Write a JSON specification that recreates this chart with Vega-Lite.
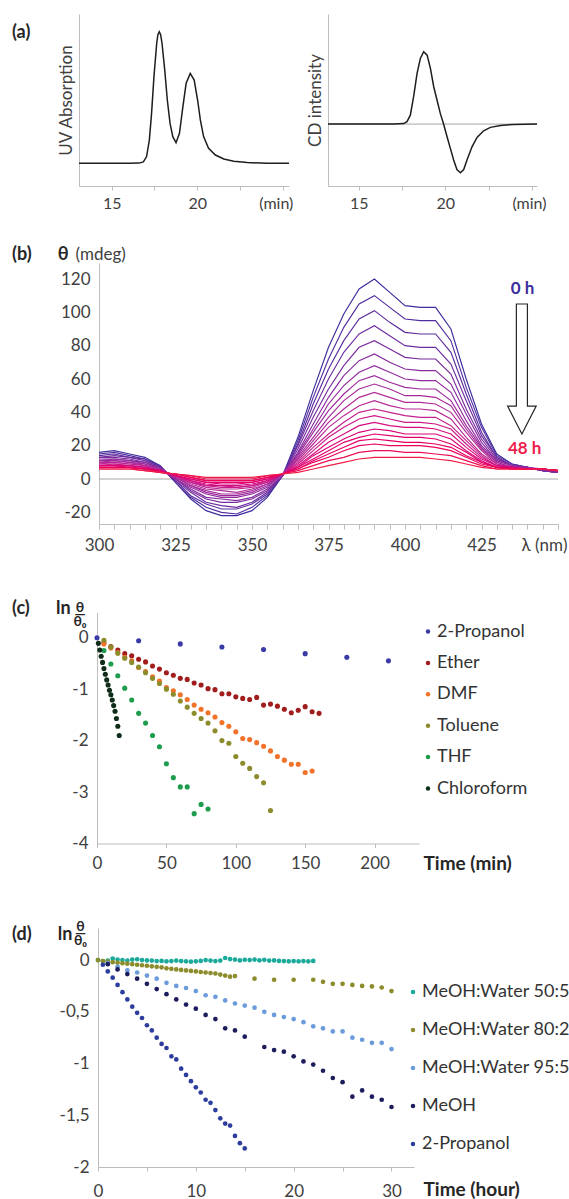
{
"$schema": "https://vega.github.io/schema/vega-lite/v6.json",
"background": "white",
"padding": {"left": 12, "top": 14, "right": 0, "bottom": 0},
"config": {
  "font": "Lato",
  "view": {"stroke": null},
  "axis": {"labelFont": "Lato", "titleFont": "Lato", "labelColor": "#404040", "titleColor": "#404040", "domainColor": "#bdbdbd", "tickColor": "#bdbdbd", "grid": false, "labelFlush": false, "labelOverlap": false, "titleFontWeight": "normal", "minExtent": 0, "domain": true},
  "legend": {"labelFont": "Lato"},
  "title": {"font": "Lato", "fontWeight": "bold", "fontSize": 18, "color": "#262626", "anchor": "start", "frame": "group", "offset": 0, "baseline": "middle"}
},
"datasets": {
  "uv": [{"t":13.09,"y":0.132},{"t":14,"y":0.132},{"t":15,"y":0.132},{"t":16,"y":0.132},{"t":16.6,"y":0.133},{"t":16.85,"y":0.14},{"t":17.04,"y":0.171},{"t":17.2,"y":0.267},{"t":17.33,"y":0.422},{"t":17.47,"y":0.636},{"t":17.63,"y":0.83},{"t":17.7,"y":0.88},{"t":17.78,"y":0.897},{"t":17.86,"y":0.88},{"t":17.94,"y":0.83},{"t":18.1,"y":0.674},{"t":18.25,"y":0.5},{"t":18.41,"y":0.364},{"t":18.57,"y":0.287},{"t":18.76,"y":0.252},{"t":18.96,"y":0.306},{"t":19.16,"y":0.461},{"t":19.35,"y":0.597},{"t":19.59,"y":0.655},{"t":19.82,"y":0.616},{"t":20.02,"y":0.5},{"t":20.18,"y":0.384},{"t":20.37,"y":0.287},{"t":20.66,"y":0.219},{"t":21.06,"y":0.18},{"t":21.55,"y":0.157},{"t":22.13,"y":0.144},{"t":22.92,"y":0.136},{"t":24.1,"y":0.132},{"t":25.36,"y":0.132}],
  "cdt": [{"t":13.23,"y":0},{"t":15,"y":0},{"t":17,"y":0},{"t":17.6,"y":0.003},{"t":17.79,"y":0.014},{"t":17.98,"y":0.052},{"t":18.17,"y":0.159},{"t":18.37,"y":0.295},{"t":18.56,"y":0.382},{"t":18.75,"y":0.421},{"t":18.95,"y":0.401},{"t":19.14,"y":0.324},{"t":19.33,"y":0.217},{"t":19.52,"y":0.14},{"t":19.71,"y":0.062},{"t":19.9,"y":0},{"t":20.1,"y":-0.074},{"t":20.29,"y":-0.141},{"t":20.48,"y":-0.209},{"t":20.67,"y":-0.264},{"t":20.87,"y":-0.283},{"t":21.06,"y":-0.264},{"t":21.25,"y":-0.209},{"t":21.54,"y":-0.132},{"t":21.83,"y":-0.078},{"t":22.21,"y":-0.039},{"t":22.6,"y":-0.019},{"t":23.18,"y":-0.008},{"t":23.94,"y":-0.002},{"t":25.29,"y":0}],
  "cd": [
{"h":0,"w":300,"v":16},{"h":0,"w":305,"v":17},{"h":0,"w":310,"v":15},{"h":0,"w":315,"v":13},{"h":0,"w":320,"v":8},{"h":0,"w":325,"v":-2},{"h":0,"w":330,"v":-12},{"h":0,"w":335,"v":-19},{"h":0,"w":340,"v":-22},{"h":0,"w":345,"v":-22},{"h":0,"w":350,"v":-19},{"h":0,"w":355,"v":-11},{"h":0,"w":360,"v":2},{"h":0,"w":365,"v":25},{"h":0,"w":370,"v":53},{"h":0,"w":375,"v":79},{"h":0,"w":380,"v":99},{"h":0,"w":385,"v":114},{"h":0,"w":390,"v":120},{"h":0,"w":395,"v":112},{"h":0,"w":400,"v":104},{"h":0,"w":405,"v":103},{"h":0,"w":410,"v":103},{"h":0,"w":415,"v":90},{"h":0,"w":420,"v":60},{"h":0,"w":425,"v":33},{"h":0,"w":430,"v":15},{"h":0,"w":435,"v":9},{"h":0,"w":440,"v":7},{"h":0,"w":445,"v":5},{"h":0,"w":450,"v":4},
{"h":3,"w":300,"v":15},{"h":3,"w":305,"v":16},{"h":3,"w":310,"v":14},{"h":3,"w":315,"v":12},{"h":3,"w":320,"v":8},{"h":3,"w":325,"v":-2},{"h":3,"w":330,"v":-11},{"h":3,"w":335,"v":-17},{"h":3,"w":340,"v":-20},{"h":3,"w":345,"v":-21},{"h":3,"w":350,"v":-17},{"h":3,"w":355,"v":-10},{"h":3,"w":360,"v":2},{"h":3,"w":365,"v":23},{"h":3,"w":370,"v":49},{"h":3,"w":375,"v":72},{"h":3,"w":380,"v":91},{"h":3,"w":385,"v":105},{"h":3,"w":390,"v":110},{"h":3,"w":395,"v":103},{"h":3,"w":400,"v":96},{"h":3,"w":405,"v":95},{"h":3,"w":410,"v":95},{"h":3,"w":415,"v":83},{"h":3,"w":420,"v":55},{"h":3,"w":425,"v":31},{"h":3,"w":430,"v":14},{"h":3,"w":435,"v":9},{"h":3,"w":440,"v":7},{"h":3,"w":445,"v":5},{"h":3,"w":450,"v":4},
{"h":5,"w":300,"v":14},{"h":5,"w":305,"v":15},{"h":5,"w":310,"v":13},{"h":5,"w":315,"v":12},{"h":5,"w":320,"v":7},{"h":5,"w":325,"v":-1},{"h":5,"w":330,"v":-10},{"h":5,"w":335,"v":-15},{"h":5,"w":340,"v":-18},{"h":5,"w":345,"v":-18},{"h":5,"w":350,"v":-15},{"h":5,"w":355,"v":-9},{"h":5,"w":360,"v":2},{"h":5,"w":365,"v":21},{"h":5,"w":370,"v":45},{"h":5,"w":375,"v":66},{"h":5,"w":380,"v":83},{"h":5,"w":385,"v":96},{"h":5,"w":390,"v":101},{"h":5,"w":395,"v":94},{"h":5,"w":400,"v":88},{"h":5,"w":405,"v":87},{"h":5,"w":410,"v":87},{"h":5,"w":415,"v":76},{"h":5,"w":420,"v":51},{"h":5,"w":425,"v":28},{"h":5,"w":430,"v":13},{"h":5,"w":435,"v":8},{"h":5,"w":440,"v":7},{"h":5,"w":445,"v":5},{"h":5,"w":450,"v":4},
{"h":8,"w":300,"v":13},{"h":8,"w":305,"v":14},{"h":8,"w":310,"v":13},{"h":8,"w":315,"v":11},{"h":8,"w":320,"v":7},{"h":8,"w":325,"v":-1},{"h":8,"w":330,"v":-8},{"h":8,"w":335,"v":-14},{"h":8,"w":340,"v":-16},{"h":8,"w":345,"v":-17},{"h":8,"w":350,"v":-14},{"h":8,"w":355,"v":-8},{"h":8,"w":360,"v":2},{"h":8,"w":365,"v":20},{"h":8,"w":370,"v":41},{"h":8,"w":375,"v":60},{"h":8,"w":380,"v":76},{"h":8,"w":385,"v":87},{"h":8,"w":390,"v":92},{"h":8,"w":395,"v":86},{"h":8,"w":400,"v":80},{"h":8,"w":405,"v":79},{"h":8,"w":410,"v":79},{"h":8,"w":415,"v":69},{"h":8,"w":420,"v":47},{"h":8,"w":425,"v":26},{"h":8,"w":430,"v":13},{"h":8,"w":435,"v":8},{"h":8,"w":440,"v":7},{"h":8,"w":445,"v":5},{"h":8,"w":450,"v":4},
{"h":10,"w":300,"v":13},{"h":10,"w":305,"v":13},{"h":10,"w":310,"v":12},{"h":10,"w":315,"v":10},{"h":10,"w":320,"v":7},{"h":10,"w":325,"v":0},{"h":10,"w":330,"v":-7},{"h":10,"w":335,"v":-12},{"h":10,"w":340,"v":-14},{"h":10,"w":345,"v":-14},{"h":10,"w":350,"v":-12},{"h":10,"w":355,"v":-7},{"h":10,"w":360,"v":2},{"h":10,"w":365,"v":18},{"h":10,"w":370,"v":37},{"h":10,"w":375,"v":54},{"h":10,"w":380,"v":68},{"h":10,"w":385,"v":79},{"h":10,"w":390,"v":83},{"h":10,"w":395,"v":78},{"h":10,"w":400,"v":73},{"h":10,"w":405,"v":72},{"h":10,"w":410,"v":72},{"h":10,"w":415,"v":63},{"h":10,"w":420,"v":42},{"h":10,"w":425,"v":24},{"h":10,"w":430,"v":12},{"h":10,"w":435,"v":8},{"h":10,"w":440,"v":7},{"h":10,"w":445,"v":5},{"h":10,"w":450,"v":4},
{"h":13,"w":300,"v":12},{"h":13,"w":305,"v":12},{"h":13,"w":310,"v":11},{"h":13,"w":315,"v":10},{"h":13,"w":320,"v":6},{"h":13,"w":325,"v":0},{"h":13,"w":330,"v":-6},{"h":13,"w":335,"v":-11},{"h":13,"w":340,"v":-12},{"h":13,"w":345,"v":-13},{"h":13,"w":350,"v":-11},{"h":13,"w":355,"v":-6},{"h":13,"w":360,"v":2},{"h":13,"w":365,"v":16},{"h":13,"w":370,"v":33},{"h":13,"w":375,"v":49},{"h":13,"w":380,"v":62},{"h":13,"w":385,"v":71},{"h":13,"w":390,"v":75},{"h":13,"w":395,"v":70},{"h":13,"w":400,"v":66},{"h":13,"w":405,"v":65},{"h":13,"w":410,"v":65},{"h":13,"w":415,"v":57},{"h":13,"w":420,"v":39},{"h":13,"w":425,"v":22},{"h":13,"w":430,"v":11},{"h":13,"w":435,"v":8},{"h":13,"w":440,"v":7},{"h":13,"w":445,"v":5},{"h":13,"w":450,"v":4},
{"h":15,"w":300,"v":11},{"h":15,"w":305,"v":12},{"h":15,"w":310,"v":11},{"h":15,"w":315,"v":9},{"h":15,"w":320,"v":6},{"h":15,"w":325,"v":0},{"h":15,"w":330,"v":-5},{"h":15,"w":335,"v":-9},{"h":15,"w":340,"v":-11},{"h":15,"w":345,"v":-11},{"h":15,"w":350,"v":-9},{"h":15,"w":355,"v":-5},{"h":15,"w":360,"v":3},{"h":15,"w":365,"v":15},{"h":15,"w":370,"v":30},{"h":15,"w":375,"v":45},{"h":15,"w":380,"v":56},{"h":15,"w":385,"v":64},{"h":15,"w":390,"v":68},{"h":15,"w":395,"v":64},{"h":15,"w":400,"v":60},{"h":15,"w":405,"v":59},{"h":15,"w":410,"v":59},{"h":15,"w":415,"v":52},{"h":15,"w":420,"v":35},{"h":15,"w":425,"v":20},{"h":15,"w":430,"v":11},{"h":15,"w":435,"v":8},{"h":15,"w":440,"v":7},{"h":15,"w":445,"v":6},{"h":15,"w":450,"v":5},
{"h":18,"w":300,"v":11},{"h":18,"w":305,"v":11},{"h":18,"w":310,"v":10},{"h":18,"w":315,"v":9},{"h":18,"w":320,"v":6},{"h":18,"w":325,"v":1},{"h":18,"w":330,"v":-4},{"h":18,"w":335,"v":-8},{"h":18,"w":340,"v":-10},{"h":18,"w":345,"v":-10},{"h":18,"w":350,"v":-8},{"h":18,"w":355,"v":-4},{"h":18,"w":360,"v":3},{"h":18,"w":365,"v":14},{"h":18,"w":370,"v":28},{"h":18,"w":375,"v":41},{"h":18,"w":380,"v":51},{"h":18,"w":385,"v":59},{"h":18,"w":390,"v":62},{"h":18,"w":395,"v":58},{"h":18,"w":400,"v":55},{"h":18,"w":405,"v":54},{"h":18,"w":410,"v":54},{"h":18,"w":415,"v":47},{"h":18,"w":420,"v":32},{"h":18,"w":425,"v":19},{"h":18,"w":430,"v":10},{"h":18,"w":435,"v":7},{"h":18,"w":440,"v":6},{"h":18,"w":445,"v":6},{"h":18,"w":450,"v":5},
{"h":20,"w":300,"v":10},{"h":20,"w":305,"v":11},{"h":20,"w":310,"v":10},{"h":20,"w":315,"v":8},{"h":20,"w":320,"v":6},{"h":20,"w":325,"v":1},{"h":20,"w":330,"v":-4},{"h":20,"w":335,"v":-7},{"h":20,"w":340,"v":-9},{"h":20,"w":345,"v":-9},{"h":20,"w":350,"v":-7},{"h":20,"w":355,"v":-3},{"h":20,"w":360,"v":3},{"h":20,"w":365,"v":13},{"h":20,"w":370,"v":25},{"h":20,"w":375,"v":37},{"h":20,"w":380,"v":47},{"h":20,"w":385,"v":54},{"h":20,"w":390,"v":57},{"h":20,"w":395,"v":54},{"h":20,"w":400,"v":50},{"h":20,"w":405,"v":50},{"h":20,"w":410,"v":49},{"h":20,"w":415,"v":44},{"h":20,"w":420,"v":30},{"h":20,"w":425,"v":18},{"h":20,"w":430,"v":10},{"h":20,"w":435,"v":7},{"h":20,"w":440,"v":6},{"h":20,"w":445,"v":6},{"h":20,"w":450,"v":5},
{"h":23,"w":300,"v":10},{"h":23,"w":305,"v":10},{"h":23,"w":310,"v":9},{"h":23,"w":315,"v":8},{"h":23,"w":320,"v":5},{"h":23,"w":325,"v":1},{"h":23,"w":330,"v":-3},{"h":23,"w":335,"v":-6},{"h":23,"w":340,"v":-7},{"h":23,"w":345,"v":-8},{"h":23,"w":350,"v":-6},{"h":23,"w":355,"v":-3},{"h":23,"w":360,"v":3},{"h":23,"w":365,"v":12},{"h":23,"w":370,"v":23},{"h":23,"w":375,"v":34},{"h":23,"w":380,"v":42},{"h":23,"w":385,"v":49},{"h":23,"w":390,"v":52},{"h":23,"w":395,"v":49},{"h":23,"w":400,"v":46},{"h":23,"w":405,"v":46},{"h":23,"w":410,"v":45},{"h":23,"w":415,"v":40},{"h":23,"w":420,"v":28},{"h":23,"w":425,"v":17},{"h":23,"w":430,"v":9},{"h":23,"w":435,"v":7},{"h":23,"w":440,"v":6},{"h":23,"w":445,"v":6},{"h":23,"w":450,"v":5},
{"h":25,"w":300,"v":9},{"h":25,"w":305,"v":10},{"h":25,"w":310,"v":9},{"h":25,"w":315,"v":8},{"h":25,"w":320,"v":5},{"h":25,"w":325,"v":1},{"h":25,"w":330,"v":-2},{"h":25,"w":335,"v":-5},{"h":25,"w":340,"v":-6},{"h":25,"w":345,"v":-6},{"h":25,"w":350,"v":-5},{"h":25,"w":355,"v":-2},{"h":25,"w":360,"v":3},{"h":25,"w":365,"v":11},{"h":25,"w":370,"v":21},{"h":25,"w":375,"v":31},{"h":25,"w":380,"v":38},{"h":25,"w":385,"v":44},{"h":25,"w":390,"v":47},{"h":25,"w":395,"v":44},{"h":25,"w":400,"v":42},{"h":25,"w":405,"v":42},{"h":25,"w":410,"v":41},{"h":25,"w":415,"v":36},{"h":25,"w":420,"v":25},{"h":25,"w":425,"v":15},{"h":25,"w":430,"v":9},{"h":25,"w":435,"v":7},{"h":25,"w":440,"v":6},{"h":25,"w":445,"v":6},{"h":25,"w":450,"v":5},
{"h":28,"w":300,"v":9},{"h":28,"w":305,"v":9},{"h":28,"w":310,"v":8},{"h":28,"w":315,"v":7},{"h":28,"w":320,"v":5},{"h":28,"w":325,"v":2},{"h":28,"w":330,"v":-2},{"h":28,"w":335,"v":-4},{"h":28,"w":340,"v":-5},{"h":28,"w":345,"v":-5},{"h":28,"w":350,"v":-4},{"h":28,"w":355,"v":-2},{"h":28,"w":360,"v":3},{"h":28,"w":365,"v":10},{"h":28,"w":370,"v":19},{"h":28,"w":375,"v":27},{"h":28,"w":380,"v":34},{"h":28,"w":385,"v":40},{"h":28,"w":390,"v":42},{"h":28,"w":395,"v":40},{"h":28,"w":400,"v":38},{"h":28,"w":405,"v":37},{"h":28,"w":410,"v":37},{"h":28,"w":415,"v":32},{"h":28,"w":420,"v":23},{"h":28,"w":425,"v":14},{"h":28,"w":430,"v":8},{"h":28,"w":435,"v":7},{"h":28,"w":440,"v":6},{"h":28,"w":445,"v":6},{"h":28,"w":450,"v":5},
{"h":30,"w":300,"v":8},{"h":30,"w":305,"v":9},{"h":30,"w":310,"v":8},{"h":30,"w":315,"v":7},{"h":30,"w":320,"v":5},{"h":30,"w":325,"v":2},{"h":30,"w":330,"v":-1},{"h":30,"w":335,"v":-4},{"h":30,"w":340,"v":-4},{"h":30,"w":345,"v":-5},{"h":30,"w":350,"v":-4},{"h":30,"w":355,"v":-1},{"h":30,"w":360,"v":3},{"h":30,"w":365,"v":9},{"h":30,"w":370,"v":17},{"h":30,"w":375,"v":25},{"h":30,"w":380,"v":31},{"h":30,"w":385,"v":36},{"h":30,"w":390,"v":38},{"h":30,"w":395,"v":36},{"h":30,"w":400,"v":34},{"h":30,"w":405,"v":34},{"h":30,"w":410,"v":33},{"h":30,"w":415,"v":30},{"h":30,"w":420,"v":21},{"h":30,"w":425,"v":13},{"h":30,"w":430,"v":8},{"h":30,"w":435,"v":7},{"h":30,"w":440,"v":6},{"h":30,"w":445,"v":6},{"h":30,"w":450,"v":5},
{"h":33,"w":300,"v":8},{"h":33,"w":305,"v":8},{"h":33,"w":310,"v":8},{"h":33,"w":315,"v":7},{"h":33,"w":320,"v":5},{"h":33,"w":325,"v":2},{"h":33,"w":330,"v":-1},{"h":33,"w":335,"v":-3},{"h":33,"w":340,"v":-4},{"h":33,"w":345,"v":-4},{"h":33,"w":350,"v":-3},{"h":33,"w":355,"v":-1},{"h":33,"w":360,"v":3},{"h":33,"w":365,"v":8},{"h":33,"w":370,"v":15},{"h":33,"w":375,"v":22},{"h":33,"w":380,"v":27},{"h":33,"w":385,"v":32},{"h":33,"w":390,"v":34},{"h":33,"w":395,"v":32},{"h":33,"w":400,"v":31},{"h":33,"w":405,"v":31},{"h":33,"w":410,"v":30},{"h":33,"w":415,"v":27},{"h":33,"w":420,"v":19},{"h":33,"w":425,"v":12},{"h":33,"w":430,"v":8},{"h":33,"w":435,"v":7},{"h":33,"w":440,"v":6},{"h":33,"w":445,"v":6},{"h":33,"w":450,"v":5},
{"h":35,"w":300,"v":8},{"h":35,"w":305,"v":8},{"h":35,"w":310,"v":7},{"h":35,"w":315,"v":6},{"h":35,"w":320,"v":5},{"h":35,"w":325,"v":2},{"h":35,"w":330,"v":0},{"h":35,"w":335,"v":-2},{"h":35,"w":340,"v":-3},{"h":35,"w":345,"v":-3},{"h":35,"w":350,"v":-2},{"h":35,"w":355,"v":0},{"h":35,"w":360,"v":3},{"h":35,"w":365,"v":7},{"h":35,"w":370,"v":14},{"h":35,"w":375,"v":19},{"h":35,"w":380,"v":24},{"h":35,"w":385,"v":28},{"h":35,"w":390,"v":30},{"h":35,"w":395,"v":29},{"h":35,"w":400,"v":27},{"h":35,"w":405,"v":27},{"h":35,"w":410,"v":27},{"h":35,"w":415,"v":24},{"h":35,"w":420,"v":17},{"h":35,"w":425,"v":11},{"h":35,"w":430,"v":7},{"h":35,"w":435,"v":7},{"h":35,"w":440,"v":6},{"h":35,"w":445,"v":6},{"h":35,"w":450,"v":5},
{"h":38,"w":300,"v":7},{"h":38,"w":305,"v":7},{"h":38,"w":310,"v":7},{"h":38,"w":315,"v":6},{"h":38,"w":320,"v":5},{"h":38,"w":325,"v":2},{"h":38,"w":330,"v":0},{"h":38,"w":335,"v":-2},{"h":38,"w":340,"v":-2},{"h":38,"w":345,"v":-2},{"h":38,"w":350,"v":-2},{"h":38,"w":355,"v":0},{"h":38,"w":360,"v":3},{"h":38,"w":365,"v":7},{"h":38,"w":370,"v":12},{"h":38,"w":375,"v":17},{"h":38,"w":380,"v":22},{"h":38,"w":385,"v":25},{"h":38,"w":390,"v":27},{"h":38,"w":395,"v":26},{"h":38,"w":400,"v":25},{"h":38,"w":405,"v":25},{"h":38,"w":410,"v":24},{"h":38,"w":415,"v":21},{"h":38,"w":420,"v":16},{"h":38,"w":425,"v":10},{"h":38,"w":430,"v":7},{"h":38,"w":435,"v":6},{"h":38,"w":440,"v":6},{"h":38,"w":445,"v":6},{"h":38,"w":450,"v":5},
{"h":40,"w":300,"v":7},{"h":40,"w":305,"v":7},{"h":40,"w":310,"v":7},{"h":40,"w":315,"v":6},{"h":40,"w":320,"v":4},{"h":40,"w":325,"v":3},{"h":40,"w":330,"v":1},{"h":40,"w":335,"v":-1},{"h":40,"w":340,"v":-1},{"h":40,"w":345,"v":-1},{"h":40,"w":350,"v":-1},{"h":40,"w":355,"v":1},{"h":40,"w":360,"v":3},{"h":40,"w":365,"v":6},{"h":40,"w":370,"v":11},{"h":40,"w":375,"v":15},{"h":40,"w":380,"v":19},{"h":40,"w":385,"v":23},{"h":40,"w":390,"v":24},{"h":40,"w":395,"v":23},{"h":40,"w":400,"v":22},{"h":40,"w":405,"v":22},{"h":40,"w":410,"v":21},{"h":40,"w":415,"v":19},{"h":40,"w":420,"v":14},{"h":40,"w":425,"v":10},{"h":40,"w":430,"v":7},{"h":40,"w":435,"v":6},{"h":40,"w":440,"v":6},{"h":40,"w":445,"v":6},{"h":40,"w":450,"v":5},
{"h":43,"w":300,"v":7},{"h":43,"w":305,"v":7},{"h":43,"w":310,"v":7},{"h":43,"w":315,"v":6},{"h":43,"w":320,"v":4},{"h":43,"w":325,"v":3},{"h":43,"w":330,"v":1},{"h":43,"w":335,"v":-1},{"h":43,"w":340,"v":-1},{"h":43,"w":345,"v":-1},{"h":43,"w":350,"v":-1},{"h":43,"w":355,"v":1},{"h":43,"w":360,"v":3},{"h":43,"w":365,"v":6},{"h":43,"w":370,"v":10},{"h":43,"w":375,"v":13},{"h":43,"w":380,"v":17},{"h":43,"w":385,"v":20},{"h":43,"w":390,"v":21},{"h":43,"w":395,"v":20},{"h":43,"w":400,"v":20},{"h":43,"w":405,"v":20},{"h":43,"w":410,"v":19},{"h":43,"w":415,"v":17},{"h":43,"w":420,"v":13},{"h":43,"w":425,"v":9},{"h":43,"w":430,"v":7},{"h":43,"w":435,"v":6},{"h":43,"w":440,"v":6},{"h":43,"w":445,"v":6},{"h":43,"w":450,"v":5},
{"h":45,"w":300,"v":6},{"h":45,"w":305,"v":6},{"h":45,"w":310,"v":6},{"h":45,"w":315,"v":5},{"h":45,"w":320,"v":4},{"h":45,"w":325,"v":3},{"h":45,"w":330,"v":2},{"h":45,"w":335,"v":0},{"h":45,"w":340,"v":0},{"h":45,"w":345,"v":0},{"h":45,"w":350,"v":0},{"h":45,"w":355,"v":2},{"h":45,"w":360,"v":3},{"h":45,"w":365,"v":5},{"h":45,"w":370,"v":8},{"h":45,"w":375,"v":11},{"h":45,"w":380,"v":13},{"h":45,"w":385,"v":16},{"h":45,"w":390,"v":17},{"h":45,"w":395,"v":17},{"h":45,"w":400,"v":16},{"h":45,"w":405,"v":16},{"h":45,"w":410,"v":15},{"h":45,"w":415,"v":14},{"h":45,"w":420,"v":11},{"h":45,"w":425,"v":8},{"h":45,"w":430,"v":6},{"h":45,"w":435,"v":6},{"h":45,"w":440,"v":6},{"h":45,"w":445,"v":6},{"h":45,"w":450,"v":5},
{"h":48,"w":300,"v":6},{"h":48,"w":305,"v":6},{"h":48,"w":310,"v":6},{"h":48,"w":315,"v":5},{"h":48,"w":320,"v":4},{"h":48,"w":325,"v":3},{"h":48,"w":330,"v":2},{"h":48,"w":335,"v":1},{"h":48,"w":340,"v":1},{"h":48,"w":345,"v":1},{"h":48,"w":350,"v":1},{"h":48,"w":355,"v":2},{"h":48,"w":360,"v":3},{"h":48,"w":365,"v":4},{"h":48,"w":370,"v":6},{"h":48,"w":375,"v":8},{"h":48,"w":380,"v":10},{"h":48,"w":385,"v":12},{"h":48,"w":390,"v":13},{"h":48,"w":395,"v":13},{"h":48,"w":400,"v":13},{"h":48,"w":405,"v":13},{"h":48,"w":410,"v":12},{"h":48,"w":415,"v":11},{"h":48,"w":420,"v":9},{"h":48,"w":425,"v":7},{"h":48,"w":430,"v":6},{"h":48,"w":435,"v":6},{"h":48,"w":440,"v":6},{"h":48,"w":445,"v":6},{"h":48,"w":450,"v":5}
  ],
  "c": [
{"s":"2-Propanol","t":0,"y":0},{"s":"2-Propanol","t":30,"y":-0.06},{"s":"2-Propanol","t":60,"y":-0.12},{"s":"2-Propanol","t":90,"y":-0.18},{"s":"2-Propanol","t":120,"y":-0.23},{"s":"2-Propanol","t":150,"y":-0.31},{"s":"2-Propanol","t":180,"y":-0.38},{"s":"2-Propanol","t":210,"y":-0.45},
{"s":"Ether","t":5,"y":-0.10},{"s":"Ether","t":10,"y":-0.17},{"s":"Ether","t":15,"y":-0.24},{"s":"Ether","t":20,"y":-0.31},{"s":"Ether","t":25,"y":-0.35},{"s":"Ether","t":30,"y":-0.42},{"s":"Ether","t":35,"y":-0.47},{"s":"Ether","t":40,"y":-0.55},{"s":"Ether","t":45,"y":-0.61},{"s":"Ether","t":50,"y":-0.68},{"s":"Ether","t":55,"y":-0.73},{"s":"Ether","t":60,"y":-0.79},{"s":"Ether","t":65,"y":-0.81},{"s":"Ether","t":70,"y":-0.88},{"s":"Ether","t":75,"y":-0.92},{"s":"Ether","t":80,"y":-0.99},{"s":"Ether","t":85,"y":-1.01},{"s":"Ether","t":90,"y":-1.09},{"s":"Ether","t":95,"y":-1.09},{"s":"Ether","t":100,"y":-1.15},{"s":"Ether","t":105,"y":-1.18},{"s":"Ether","t":110,"y":-1.20},{"s":"Ether","t":115,"y":-1.16},{"s":"Ether","t":120,"y":-1.31},{"s":"Ether","t":125,"y":-1.29},{"s":"Ether","t":130,"y":-1.33},{"s":"Ether","t":135,"y":-1.39},{"s":"Ether","t":140,"y":-1.46},{"s":"Ether","t":145,"y":-1.41},{"s":"Ether","t":150,"y":-1.34},{"s":"Ether","t":155,"y":-1.44},{"s":"Ether","t":160,"y":-1.47},
{"s":"DMF","t":5,"y":-0.12},{"s":"DMF","t":10,"y":-0.20},{"s":"DMF","t":15,"y":-0.29},{"s":"DMF","t":20,"y":-0.38},{"s":"DMF","t":25,"y":-0.45},{"s":"DMF","t":30,"y":-0.58},{"s":"DMF","t":35,"y":-0.66},{"s":"DMF","t":40,"y":-0.76},{"s":"DMF","t":45,"y":-0.84},{"s":"DMF","t":50,"y":-0.97},{"s":"DMF","t":55,"y":-1.03},{"s":"DMF","t":60,"y":-1.11},{"s":"DMF","t":65,"y":-1.20},{"s":"DMF","t":70,"y":-1.31},{"s":"DMF","t":75,"y":-1.39},{"s":"DMF","t":80,"y":-1.46},{"s":"DMF","t":85,"y":-1.54},{"s":"DMF","t":90,"y":-1.65},{"s":"DMF","t":95,"y":-1.72},{"s":"DMF","t":100,"y":-1.83},{"s":"DMF","t":105,"y":-1.96},{"s":"DMF","t":110,"y":-1.98},{"s":"DMF","t":115,"y":-2.04},{"s":"DMF","t":120,"y":-2.11},{"s":"DMF","t":125,"y":-2.20},{"s":"DMF","t":130,"y":-2.31},{"s":"DMF","t":135,"y":-2.38},{"s":"DMF","t":140,"y":-2.46},{"s":"DMF","t":145,"y":-2.46},{"s":"DMF","t":150,"y":-2.62},{"s":"DMF","t":155,"y":-2.59},
{"s":"Toluene","t":5,"y":-0.05},{"s":"Toluene","t":10,"y":-0.18},{"s":"Toluene","t":15,"y":-0.30},{"s":"Toluene","t":20,"y":-0.40},{"s":"Toluene","t":25,"y":-0.48},{"s":"Toluene","t":30,"y":-0.57},{"s":"Toluene","t":35,"y":-0.68},{"s":"Toluene","t":40,"y":-0.79},{"s":"Toluene","t":45,"y":-0.89},{"s":"Toluene","t":50,"y":-1.00},{"s":"Toluene","t":55,"y":-1.10},{"s":"Toluene","t":60,"y":-1.23},{"s":"Toluene","t":65,"y":-1.35},{"s":"Toluene","t":70,"y":-1.47},{"s":"Toluene","t":75,"y":-1.57},{"s":"Toluene","t":80,"y":-1.66},{"s":"Toluene","t":85,"y":-1.81},{"s":"Toluene","t":90,"y":-2.00},{"s":"Toluene","t":95,"y":-2.05},{"s":"Toluene","t":100,"y":-2.31},{"s":"Toluene","t":105,"y":-2.44},{"s":"Toluene","t":110,"y":-2.54},{"s":"Toluene","t":115,"y":-2.70},{"s":"Toluene","t":120,"y":-2.82},{"s":"Toluene","t":125,"y":-3.36},
{"s":"THF","t":5,"y":-0.25},{"s":"THF","t":10,"y":-0.51},{"s":"THF","t":15,"y":-0.74},{"s":"THF","t":20,"y":-0.98},{"s":"THF","t":25,"y":-1.21},{"s":"THF","t":30,"y":-1.47},{"s":"THF","t":35,"y":-1.66},{"s":"THF","t":40,"y":-1.90},{"s":"THF","t":45,"y":-2.12},{"s":"THF","t":50,"y":-2.45},{"s":"THF","t":55,"y":-2.72},{"s":"THF","t":60,"y":-2.90},{"s":"THF","t":65,"y":-2.90},{"s":"THF","t":70,"y":-3.42},{"s":"THF","t":75,"y":-3.24},{"s":"THF","t":80,"y":-3.33},
{"s":"Chloroform","t":1,"y":-0.11},{"s":"Chloroform","t":2,"y":-0.24},{"s":"Chloroform","t":3,"y":-0.36},{"s":"Chloroform","t":4,"y":-0.48},{"s":"Chloroform","t":5,"y":-0.60},{"s":"Chloroform","t":6,"y":-0.71},{"s":"Chloroform","t":7,"y":-0.82},{"s":"Chloroform","t":8,"y":-0.92},{"s":"Chloroform","t":9,"y":-1.02},{"s":"Chloroform","t":10,"y":-1.11},{"s":"Chloroform","t":11,"y":-1.21},{"s":"Chloroform","t":12,"y":-1.32},{"s":"Chloroform","t":13,"y":-1.43},{"s":"Chloroform","t":14,"y":-1.57},{"s":"Chloroform","t":15,"y":-1.72},{"s":"Chloroform","t":16,"y":-1.90}
  ],
  "d": [
{"s":"MeOH:Water 50:50","t":0,"y":0},{"s":"MeOH:Water 50:50","t":0.5,"y":-0.01},{"s":"MeOH:Water 50:50","t":1,"y":-0.005},{"s":"MeOH:Water 50:50","t":1.5,"y":0.015},{"s":"MeOH:Water 50:50","t":2,"y":0.005},{"s":"MeOH:Water 50:50","t":2.5,"y":0},{"s":"MeOH:Water 50:50","t":3,"y":-0.005},{"s":"MeOH:Water 50:50","t":3.5,"y":0.005},{"s":"MeOH:Water 50:50","t":4,"y":0.008},{"s":"MeOH:Water 50:50","t":4.5,"y":0},{"s":"MeOH:Water 50:50","t":5,"y":-0.003},{"s":"MeOH:Water 50:50","t":5.5,"y":-0.005},{"s":"MeOH:Water 50:50","t":6,"y":-0.01},{"s":"MeOH:Water 50:50","t":6.5,"y":-0.008},{"s":"MeOH:Water 50:50","t":7,"y":-0.012},{"s":"MeOH:Water 50:50","t":7.5,"y":-0.01},{"s":"MeOH:Water 50:50","t":8,"y":-0.005},{"s":"MeOH:Water 50:50","t":8.5,"y":-0.01},{"s":"MeOH:Water 50:50","t":9,"y":-0.012},{"s":"MeOH:Water 50:50","t":9.5,"y":-0.015},{"s":"MeOH:Water 50:50","t":10,"y":-0.012},{"s":"MeOH:Water 50:50","t":10.5,"y":-0.008},{"s":"MeOH:Water 50:50","t":11,"y":0},{"s":"MeOH:Water 50:50","t":11.5,"y":-0.005},{"s":"MeOH:Water 50:50","t":12,"y":-0.01},{"s":"MeOH:Water 50:50","t":12.5,"y":-0.005},{"s":"MeOH:Water 50:50","t":13,"y":0.02},{"s":"MeOH:Water 50:50","t":13.5,"y":0.01},{"s":"MeOH:Water 50:50","t":14,"y":0.005},{"s":"MeOH:Water 50:50","t":14.5,"y":-0.003},{"s":"MeOH:Water 50:50","t":15,"y":0.003},{"s":"MeOH:Water 50:50","t":15.5,"y":0},{"s":"MeOH:Water 50:50","t":16,"y":0.005},{"s":"MeOH:Water 50:50","t":16.5,"y":-0.002},{"s":"MeOH:Water 50:50","t":17,"y":0.002},{"s":"MeOH:Water 50:50","t":17.5,"y":-0.005},{"s":"MeOH:Water 50:50","t":18,"y":-0.003},{"s":"MeOH:Water 50:50","t":18.5,"y":-0.008},{"s":"MeOH:Water 50:50","t":19,"y":-0.01},{"s":"MeOH:Water 50:50","t":19.5,"y":-0.012},{"s":"MeOH:Water 50:50","t":20,"y":-0.01},{"s":"MeOH:Water 50:50","t":20.5,"y":-0.012},{"s":"MeOH:Water 50:50","t":21,"y":-0.01},{"s":"MeOH:Water 50:50","t":21.5,"y":-0.012},{"s":"MeOH:Water 50:50","t":22,"y":-0.008},
{"s":"MeOH:Water 80:20","t":0,"y":0},{"s":"MeOH:Water 80:20","t":0.5,"y":-0.01},{"s":"MeOH:Water 80:20","t":1,"y":-0.015},{"s":"MeOH:Water 80:20","t":1.5,"y":-0.02},{"s":"MeOH:Water 80:20","t":2,"y":-0.025},{"s":"MeOH:Water 80:20","t":2.5,"y":-0.03},{"s":"MeOH:Water 80:20","t":3,"y":-0.035},{"s":"MeOH:Water 80:20","t":3.5,"y":-0.04},{"s":"MeOH:Water 80:20","t":4,"y":-0.045},{"s":"MeOH:Water 80:20","t":4.5,"y":-0.05},{"s":"MeOH:Water 80:20","t":5,"y":-0.055},{"s":"MeOH:Water 80:20","t":5.5,"y":-0.06},{"s":"MeOH:Water 80:20","t":6,"y":-0.065},{"s":"MeOH:Water 80:20","t":6.5,"y":-0.07},{"s":"MeOH:Water 80:20","t":7,"y":-0.08},{"s":"MeOH:Water 80:20","t":7.5,"y":-0.085},{"s":"MeOH:Water 80:20","t":8,"y":-0.09},{"s":"MeOH:Water 80:20","t":8.5,"y":-0.095},{"s":"MeOH:Water 80:20","t":9,"y":-0.1},{"s":"MeOH:Water 80:20","t":9.5,"y":-0.105},{"s":"MeOH:Water 80:20","t":10,"y":-0.11},{"s":"MeOH:Water 80:20","t":10.5,"y":-0.115},{"s":"MeOH:Water 80:20","t":11,"y":-0.12},{"s":"MeOH:Water 80:20","t":11.5,"y":-0.125},{"s":"MeOH:Water 80:20","t":12,"y":-0.13},{"s":"MeOH:Water 80:20","t":12.5,"y":-0.14},{"s":"MeOH:Water 80:20","t":13,"y":-0.15},{"s":"MeOH:Water 80:20","t":13.5,"y":-0.16},{"s":"MeOH:Water 80:20","t":14,"y":-0.155},{"s":"MeOH:Water 80:20","t":16,"y":-0.18},{"s":"MeOH:Water 80:20","t":18,"y":-0.19},{"s":"MeOH:Water 80:20","t":20,"y":-0.19},{"s":"MeOH:Water 80:20","t":22,"y":-0.19},{"s":"MeOH:Water 80:20","t":23,"y":-0.21},{"s":"MeOH:Water 80:20","t":24,"y":-0.23},{"s":"MeOH:Water 80:20","t":25,"y":-0.23},{"s":"MeOH:Water 80:20","t":26,"y":-0.24},{"s":"MeOH:Water 80:20","t":27,"y":-0.25},{"s":"MeOH:Water 80:20","t":28,"y":-0.255},{"s":"MeOH:Water 80:20","t":29,"y":-0.265},{"s":"MeOH:Water 80:20","t":30,"y":-0.3},
{"s":"MeOH:Water 95:5","t":1,"y":-0.03},{"s":"MeOH:Water 95:5","t":2,"y":-0.065},{"s":"MeOH:Water 95:5","t":3,"y":-0.1},{"s":"MeOH:Water 95:5","t":4,"y":-0.12},{"s":"MeOH:Water 95:5","t":5,"y":-0.15},{"s":"MeOH:Water 95:5","t":6,"y":-0.18},{"s":"MeOH:Water 95:5","t":7,"y":-0.22},{"s":"MeOH:Water 95:5","t":8,"y":-0.25},{"s":"MeOH:Water 95:5","t":9,"y":-0.27},{"s":"MeOH:Water 95:5","t":10,"y":-0.3},{"s":"MeOH:Water 95:5","t":11,"y":-0.34},{"s":"MeOH:Water 95:5","t":12,"y":-0.355},{"s":"MeOH:Water 95:5","t":13,"y":-0.39},{"s":"MeOH:Water 95:5","t":14,"y":-0.42},{"s":"MeOH:Water 95:5","t":15,"y":-0.44},{"s":"MeOH:Water 95:5","t":16,"y":-0.46},{"s":"MeOH:Water 95:5","t":17,"y":-0.5},{"s":"MeOH:Water 95:5","t":18,"y":-0.53},{"s":"MeOH:Water 95:5","t":19,"y":-0.55},{"s":"MeOH:Water 95:5","t":20,"y":-0.57},{"s":"MeOH:Water 95:5","t":21,"y":-0.6},{"s":"MeOH:Water 95:5","t":22,"y":-0.64},{"s":"MeOH:Water 95:5","t":23,"y":-0.66},{"s":"MeOH:Water 95:5","t":24,"y":-0.69},{"s":"MeOH:Water 95:5","t":25,"y":-0.69},{"s":"MeOH:Water 95:5","t":26,"y":-0.75},{"s":"MeOH:Water 95:5","t":27,"y":-0.77},{"s":"MeOH:Water 95:5","t":28,"y":-0.8},{"s":"MeOH:Water 95:5","t":29,"y":-0.8},{"s":"MeOH:Water 95:5","t":30,"y":-0.86},
{"s":"MeOH","t":1,"y":-0.04},{"s":"MeOH","t":2,"y":-0.09},{"s":"MeOH","t":3,"y":-0.135},{"s":"MeOH","t":4,"y":-0.18},{"s":"MeOH","t":5,"y":-0.23},{"s":"MeOH","t":6,"y":-0.28},{"s":"MeOH","t":7,"y":-0.33},{"s":"MeOH","t":8,"y":-0.38},{"s":"MeOH","t":9,"y":-0.43},{"s":"MeOH","t":10,"y":-0.47},{"s":"MeOH","t":11,"y":-0.53},{"s":"MeOH","t":12,"y":-0.57},{"s":"MeOH","t":13,"y":-0.66},{"s":"MeOH","t":14,"y":-0.68},{"s":"MeOH","t":15,"y":-0.74},{"s":"MeOH","t":17,"y":-0.84},{"s":"MeOH","t":18,"y":-0.87},{"s":"MeOH","t":19,"y":-0.885},{"s":"MeOH","t":20,"y":-0.93},{"s":"MeOH","t":21,"y":-0.98},{"s":"MeOH","t":22,"y":-1.01},{"s":"MeOH","t":23,"y":-1.07},{"s":"MeOH","t":24,"y":-1.14},{"s":"MeOH","t":25,"y":-1.18},{"s":"MeOH","t":26,"y":-1.32},{"s":"MeOH","t":27,"y":-1.26},{"s":"MeOH","t":28,"y":-1.32},{"s":"MeOH","t":29,"y":-1.35},{"s":"MeOH","t":30,"y":-1.42},
{"s":"2-Propanol","t":0.5,"y":-0.045},{"s":"2-Propanol","t":1,"y":-0.11},{"s":"2-Propanol","t":1.5,"y":-0.17},{"s":"2-Propanol","t":2,"y":-0.24},{"s":"2-Propanol","t":2.5,"y":-0.31},{"s":"2-Propanol","t":3,"y":-0.38},{"s":"2-Propanol","t":3.5,"y":-0.45},{"s":"2-Propanol","t":4,"y":-0.51},{"s":"2-Propanol","t":4.5,"y":-0.56},{"s":"2-Propanol","t":5,"y":-0.63},{"s":"2-Propanol","t":5.5,"y":-0.68},{"s":"2-Propanol","t":6,"y":-0.75},{"s":"2-Propanol","t":6.5,"y":-0.81},{"s":"2-Propanol","t":7,"y":-0.85},{"s":"2-Propanol","t":7.5,"y":-0.93},{"s":"2-Propanol","t":8,"y":-0.96},{"s":"2-Propanol","t":8.5,"y":-1.05},{"s":"2-Propanol","t":9,"y":-1.11},{"s":"2-Propanol","t":9.5,"y":-1.17},{"s":"2-Propanol","t":10,"y":-1.23},{"s":"2-Propanol","t":10.5,"y":-1.28},{"s":"2-Propanol","t":11,"y":-1.35},{"s":"2-Propanol","t":11.5,"y":-1.38},{"s":"2-Propanol","t":12,"y":-1.45},{"s":"2-Propanol","t":12.5,"y":-1.53},{"s":"2-Propanol","t":13,"y":-1.58},{"s":"2-Propanol","t":13.5,"y":-1.6},{"s":"2-Propanol","t":14,"y":-1.7},{"s":"2-Propanol","t":14.5,"y":-1.77},{"s":"2-Propanol","t":15,"y":-1.82}
  ]
},
"columns": 1,
"align": "none",
"spacing": 34,
"concat": [
  {
    "hconcat": [
      {
        "width": 210, "height": 172,
        "title": {"text": "(a)", "dx": -67, "dy": 32},
        "data": {"name": "uv"},
        "mark": {"type": "line", "color": "#1e1e1e", "strokeWidth": 1.5},
        "encoding": {
          "x": {"field": "t", "type": "quantitative", "scale": {"domain": [13.09, 25.36], "nice": false, "zero": false},
                "axis": {"title": null, "values": [15, 17.5, 20, 22.5, 25], "labelOverlap": false, "labelExpr": "datum.value == 25 ? '(min)' : ((datum.value == 15 || datum.value == 20) ? datum.label : '')", "labelFontSize": 16, "tickSize": 4, "labelPadding": 5, "labelOffset": {"condition": {"test": "datum.value == 25", "value": -7}, "value": 0}}},
          "y": {"field": "y", "type": "quantitative", "scale": {"domain": [0, 1], "nice": false, "zero": false},
                "axis": {"title": "UV Absorption", "domain": true, "domainColor": "#bdbdbd", "domainWidth": 1, "labels": false, "ticks": false, "tickSize": 0, "titleFontSize": 17, "titlePadding": 4}}
        }
      },
      {
        "width": 209, "height": 172,
        "layer": [
          {
            "data": {"values": [{"y": 0}]},
            "mark": {"type": "rule", "color": "#a6a6a6", "strokeWidth": 1},
            "encoding": {
              "y": {"field": "y", "type": "quantitative", "scale": {"domain": [-0.36, 0.64], "nice": false, "zero": false},
                    "axis": {"title": "CD intensity", "domain": true, "domainColor": "#bdbdbd", "domainWidth": 1, "labels": false, "ticks": false, "tickSize": 0, "titleFontSize": 17, "titlePadding": 4}}
            }
          },
          {
            "data": {"name": "cdt"},
            "mark": {"type": "line", "color": "#1e1e1e", "strokeWidth": 1.5},
            "encoding": {
              "x": {"field": "t", "type": "quantitative", "scale": {"domain": [13.23, 25.29], "nice": false, "zero": false},
                    "axis": {"title": null, "values": [15, 17.5, 20, 22.5, 25], "labelOverlap": false, "labelExpr": "datum.value == 25 ? '(min)' : ((datum.value == 15 || datum.value == 20) ? datum.label : '')", "labelFontSize": 16, "tickSize": 4, "labelPadding": 5, "labelOffset": {"condition": {"test": "datum.value == 25", "value": -3}, "value": 0}}},
              "y": {"field": "y", "type": "quantitative", "scale": {"domain": [-0.36, 0.64], "nice": false, "zero": false},
                    "axis": {"title": "CD intensity", "domain": true, "domainColor": "#bdbdbd", "domainWidth": 1, "labels": false, "ticks": false, "tickSize": 0, "titleFontSize": 17, "titlePadding": 4}}
            }
          }
        ]
      }
    ],
    "spacing": 39,
    "bounds": "flush"
  },
  {
    "columns": 1,
    "align": "none",
    "spacing": 45.5,
    "concat": [
      {
        "bounds": "flush",
        "spacing": 19,
        "hconcat": [
          {"width": 1, "height": 1, "data": {"values": []}, "mark": {"type": "point", "opacity": 0}, "encoding": {}},
          {
            "width": 459, "height": 261,
            "title": {"text": "(b)\u00a0\u00a0\u00a0\u00a0\u00a0\u00a0θ", "dx": -87, "dy": 22.5},
            "layer": [
              {
                "data": {"values": [{"v": 0}]},
                "mark": {"type": "rule", "color": "#a6a6a6", "strokeWidth": 1},
                "encoding": {
                  "y": {"field": "v", "type": "quantitative", "scale": {"domain": [-27, 129.6], "nice": false, "zero": false},
                        "axis": {"title": "(mdeg)", "titleX": -24, "titleY": -9, "titleAngle": 0, "titleAlign": "left", "titleBaseline": "middle", "titleFontSize": 17,
                                 "values": [-20, 0, 20, 40, 60, 80, 100, 120], "labelOverlap": false, "ticks": false, "tickSize": 0, "labelFontSize": 17, "labelPadding": 9, "labelExpr": "replace(format(datum.value, '~g'), '−', '-')"}}
                }
              },
              {
                "data": {"name": "cd"},
                "mark": {"type": "line", "strokeWidth": 1.15},
                "encoding": {
                  "x": {"field": "w", "type": "quantitative", "scale": {"domain": [300, 450], "nice": false, "zero": false},
                        "axis": {"title": null, "values": [300,305,310,315,320,325,330,335,340,345,350,355,360,365,370,375,380,385,390,395,400,405,410,415,420,425,430,435,440,445,450], "labelOverlap": false, "tickSize": 5, "labelFontSize": 17, "labelPadding": 8.7,
                                 "labelExpr": "datum.value == 450 ? 'λ (nm)' : (datum.value % 25 == 0 ? datum.label : '')",
                                 "labelAlign": {"condition": {"test": "datum.value == 450", "value": "right"}, "value": "center"},
                                 "labelOffset": {"condition": {"test": "datum.value == 450", "value": 9}, "value": 0}}},
                  "y": {"field": "v", "type": "quantitative", "scale": {"domain": [-27, 129.6], "nice": false, "zero": false},
                        "axis": {"title": "(mdeg)", "titleX": -24, "titleY": -9, "titleAngle": 0, "titleAlign": "left", "titleBaseline": "middle", "titleFontSize": 17,
                                 "values": [-20, 0, 20, 40, 60, 80, 100, 120], "labelOverlap": false, "ticks": false, "tickSize": 0, "labelFontSize": 17, "labelPadding": 9, "labelExpr": "replace(format(datum.value, '~g'), '−', '-')"}},
                  "color": {"field": "h", "type": "quantitative", "scale": {"domain": [0, 48], "range": ["#3c2e9e", "#b52b97", "#f01c48"]}, "legend": null},
                  "detail": {"field": "h", "type": "nominal"}
                }
              },
              {
                "data": {"values": [{"w": 438.4, "v": 114, "label": "0 h"}]},
                "mark": {"type": "text", "color": "#3b2d9c", "fontWeight": "bold", "fontSize": 17, "font": "Lato", "baseline": "middle"},
                "encoding": {
                  "x": {"field": "w", "type": "quantitative", "scale": {"domain": [300, 450], "nice": false, "zero": false},
                        "axis": {"title": null, "values": [300,305,310,315,320,325,330,335,340,345,350,355,360,365,370,375,380,385,390,395,400,405,410,415,420,425,430,435,440,445,450], "labelOverlap": false, "tickSize": 5, "labelFontSize": 17, "labelPadding": 8.7,
                                 "labelExpr": "datum.value == 450 ? 'λ (nm)' : (datum.value % 25 == 0 ? datum.label : '')",
                                 "labelAlign": {"condition": {"test": "datum.value == 450", "value": "right"}, "value": "center"},
                                 "labelOffset": {"condition": {"test": "datum.value == 450", "value": 9}, "value": 0}}},
                  "y": {"field": "v", "type": "quantitative", "scale": {"domain": [-27, 129.6], "nice": false, "zero": false},
                        "axis": {"title": "(mdeg)", "titleX": -24, "titleY": -9, "titleAngle": 0, "titleAlign": "left", "titleBaseline": "middle", "titleFontSize": 17,
                                 "values": [-20, 0, 20, 40, 60, 80, 100, 120], "labelOverlap": false, "ticks": false, "tickSize": 0, "labelFontSize": 17, "labelPadding": 9, "labelExpr": "replace(format(datum.value, '~g'), '−', '-')"}},
                  "text": {"field": "label"}
                }
              },
              {
                "data": {"values": [{"w": 439.1, "v": 18, "label": "48 h"}]},
                "mark": {"type": "text", "color": "#ef1d4c", "fontWeight": "bold", "fontSize": 17, "font": "Lato", "baseline": "middle"},
                "encoding": {
                  "x": {"field": "w", "type": "quantitative", "scale": {"domain": [300, 450], "nice": false, "zero": false},
                        "axis": {"title": null, "values": [300,305,310,315,320,325,330,335,340,345,350,355,360,365,370,375,380,385,390,395,400,405,410,415,420,425,430,435,440,445,450], "labelOverlap": false, "tickSize": 5, "labelFontSize": 17, "labelPadding": 8.7,
                                 "labelExpr": "datum.value == 450 ? 'λ (nm)' : (datum.value % 25 == 0 ? datum.label : '')",
                                 "labelAlign": {"condition": {"test": "datum.value == 450", "value": "right"}, "value": "center"},
                                 "labelOffset": {"condition": {"test": "datum.value == 450", "value": 9}, "value": 0}}},
                  "y": {"field": "v", "type": "quantitative", "scale": {"domain": [-27, 129.6], "nice": false, "zero": false},
                        "axis": {"title": "(mdeg)", "titleX": -24, "titleY": -9, "titleAngle": 0, "titleAlign": "left", "titleBaseline": "middle", "titleFontSize": 17,
                                 "values": [-20, 0, 20, 40, 60, 80, 100, 120], "labelOverlap": false, "ticks": false, "tickSize": 0, "labelFontSize": 17, "labelPadding": 9, "labelExpr": "replace(format(datum.value, '~g'), '−', '-')"}},
                  "text": {"field": "label"}
                }
              },
              {
                "data": {"values": [{"w": 438.2, "v": 66}]},
                "mark": {"type": "point", "shape": "M-0.085,-1L0.085,-1L0.085,0.57L0.22,0.57L0,1L-0.22,0.57L-0.085,0.57Z", "size": 16900, "filled": true, "fill": "white", "stroke": "#262626", "strokeWidth": 1.2, "opacity": 1},
                "encoding": {
                  "x": {"field": "w", "type": "quantitative", "scale": {"domain": [300, 450], "nice": false, "zero": false},
                        "axis": {"title": null, "values": [300,305,310,315,320,325,330,335,340,345,350,355,360,365,370,375,380,385,390,395,400,405,410,415,420,425,430,435,440,445,450], "labelOverlap": false, "tickSize": 5, "labelFontSize": 17, "labelPadding": 8.7,
                                 "labelExpr": "datum.value == 450 ? 'λ (nm)' : (datum.value % 25 == 0 ? datum.label : '')",
                                 "labelAlign": {"condition": {"test": "datum.value == 450", "value": "right"}, "value": "center"},
                                 "labelOffset": {"condition": {"test": "datum.value == 450", "value": 9}, "value": 0}}},
                  "y": {"field": "v", "type": "quantitative", "scale": {"domain": [-27, 129.6], "nice": false, "zero": false},
                        "axis": {"title": "(mdeg)", "titleX": -24, "titleY": -9, "titleAngle": 0, "titleAlign": "left", "titleBaseline": "middle", "titleFontSize": 17,
                                 "values": [-20, 0, 20, 40, 60, 80, 100, 120], "labelOverlap": false, "ticks": false, "tickSize": 0, "labelFontSize": 17, "labelPadding": 9, "labelExpr": "replace(format(datum.value, '~g'), '−', '-')"}}
                }
              }
            ]
          }
        ]
      },
      {
        "bounds": "flush",
        "spacing": 17,
        "hconcat": [
          {"width": 1, "height": 1, "data": {"values": []}, "mark": {"type": "point", "opacity": 0}, "encoding": {}},
          {
            "width": 322, "height": 231,
            "title": {"text": "(c)\u00a0\u00a0\u00a0\u00a0\u00a0\u00a0ln", "dx": -85, "dy": 21},
            "data": {"name": "c"},
            "mark": {"type": "point", "filled": true, "size": 26, "opacity": 1},
            "encoding": {
              "x": {"field": "t", "type": "quantitative", "scale": {"domain": [0, 232], "nice": false, "zero": false},
                    "axis": {"values": [0, 50, 100, 150, 200], "labelOverlap": false, "tickSize": 4, "labelFontSize": 17, "labelPadding": 8,
                             "title": "Time (min)", "titleX": 326, "titleY": 19.5, "titleAlign": "left", "titleBaseline": "middle", "titleAngle": 0, "titleFontWeight": "bold", "titleFontSize": 19, "titleColor": "#262626"}},
              "y": {"field": "y", "type": "quantitative", "scale": {"domain": [-4, 0.49], "nice": false, "zero": false},
                    "axis": {"values": [0, -1, -2, -3, -4], "labelOverlap": false, "ticks": false, "tickSize": 0, "labelFontSize": 17, "labelPadding": 9, "labelExpr": "replace(format(datum.value, '~g'), '−', '-')",
                             "title": ["θ", "—", "θ₀"], "titleX": -17.5, "titleY": -5, "titleAngle": 0, "titleAlign": "center", "titleBaseline": "middle", "titleLineHeight": 7, "titleFontSize": 14, "titleFontWeight": "bold", "titleColor": "#262626"}},
              "color": {"field": "s", "type": "nominal",
                        "scale": {"domain": ["2-Propanol", "Ether", "DMF", "Toluene", "THF", "Chloroform"], "range": ["#3a3aa6", "#a11d1d", "#f2722a", "#8c8c2c", "#1c9c4c", "#0f2d18"]},
                        "legend": {"orient": "none", "legendX": 340, "legendY": 10, "title": null, "labelFontSize": 18, "labelColor": "#333333", "symbolType": "circle", "symbolSize": 20, "symbolStrokeWidth": 0, "labelOffset": 0, "rowPadding": 13.4, "padding": 0}}
            }
          }
        ]
      },
      {
        "bounds": "flush",
        "spacing": 18,
        "hconcat": [
          {"width": 1, "height": 1, "data": {"values": []}, "mark": {"type": "point", "opacity": 0}, "encoding": {}},
          {
            "width": 316, "height": 239,
            "title": {"text": "(d)\u00a0\u00a0\u00a0\u00a0\u00a0\u00a0ln", "dx": -86, "dy": 29},
            "data": {"name": "d"},
            "mark": {"type": "point", "filled": true, "size": 22, "opacity": 1},
            "encoding": {
              "x": {"field": "t", "type": "quantitative", "scale": {"domain": [0, 32.3], "nice": false, "zero": false},
                    "axis": {"values": [0, 5, 10, 15, 20, 25, 30], "labelOverlap": false, "labelExpr": "datum.value % 10 == 0 ? datum.label : ''", "tickSize": 4, "labelFontSize": 17, "labelPadding": 12,
                             "title": "Time (hour)", "titleX": 325, "titleY": 22, "titleAlign": "left", "titleBaseline": "middle", "titleAngle": 0, "titleFontWeight": "bold", "titleFontSize": 19, "titleColor": "#262626"}},
              "y": {"field": "y", "type": "quantitative", "scale": {"domain": [-2, 0.31], "nice": false, "zero": false},
                    "axis": {"values": [0, -0.5, -1, -1.5, -2], "labelOverlap": false, "ticks": false, "tickSize": 0, "labelFontSize": 17, "labelPadding": 9, "labelExpr": "replace(replace(format(datum.value, '~g'), '−', '-'), '.', ',')",
                             "title": ["θ", "—", "θ₀"], "titleX": -18, "titleY": -2, "titleAngle": 0, "titleAlign": "center", "titleBaseline": "middle", "titleLineHeight": 7, "titleFontSize": 14, "titleFontWeight": "bold", "titleColor": "#262626"}},
              "color": {"field": "s", "type": "nominal",
                        "scale": {"domain": ["MeOH:Water 50:50", "MeOH:Water 80:20", "MeOH:Water 95:5", "MeOH", "2-Propanol"], "range": ["#1aa99a", "#8c8c2c", "#6b9bdb", "#1d1d5d", "#2d3d9d"]},
                        "legend": {"orient": "none", "legendX": 325, "legendY": 55, "title": null, "labelFontSize": 18, "labelColor": "#333333", "symbolType": "circle", "symbolSize": 20, "symbolStrokeWidth": 0, "labelOffset": 0, "rowPadding": 20, "padding": 0}}
            }
          }
        ]
      }
    ]
  }
]
}
